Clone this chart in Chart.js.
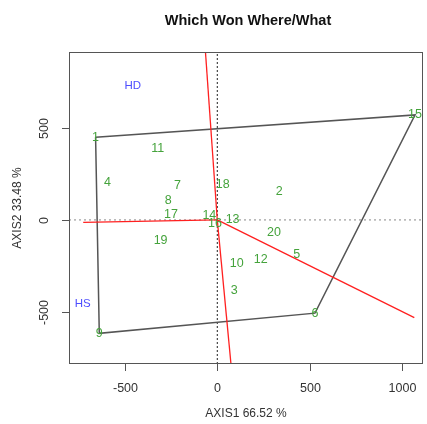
<!DOCTYPE html>
<html>
<head>
<meta charset="utf-8">
<script src="https://cdn.jsdelivr.net/npm/chart.js@4.4.1/dist/chart.umd.min.js"></script>
<style>
  html, body { margin: 0; padding: 0; background: #fff; }
  #wrap { width: 427px; height: 424px; }
</style>
</head>
<body>
<div id="wrap"><canvas id="biplot"></canvas></div>
<script>
// Genotype labels and their biplot scores (AXIS1, AXIS2)
const labels = ['1','2','3','4','5','6','7','8','9','10','11','12','13','14','15','16','17','18','19','20'];
const axis1 = [-659, 336, 92, -594, 430, 529, -215, -265, -639, 105, -323, 235, 83, -43, 1071, -12, -251, 29, -307, 307];
const axis2 = [451, 154, -385, 205, -191, -508, 185, 105, -618, -240, 387, -214, 4, 23, 572, -18, 31, 194, -113, -67];

// Polygon vertices (genotype ids, closed)
const hull = ['1', '15', '6', '9', '1'];

// Rays from origin, perpendicular to the polygon sides
const rayX = [-70, 1067, 85, -726];
const rayY = [1000, -532, -900, -13];

// Environment group labels
const envNames = ['HD', 'HS'];
const envX = [-458, -729];
const envY = [731, -458];

const xTicks = [-500, 0, 500, 1000];
const yTicks = [-500, 0, 500];

const X_MIN = -803, X_MAX = 1114;
const Y_MIN = -785, Y_MAX = 915;

const GREEN = '#45a33c';
const BLUE = '#4d4dff';

const hullPts = hull.map(id => {
  const i = labels.indexOf(id);
  return { x: axis1[i], y: axis2[i] };
});

const rayDatasets = rayX.map((x, i) => ({
  type: 'line',
  data: [{ x: 0, y: 0 }, { x: x, y: rayY[i] }],
  borderColor: '#ff2020',
  borderWidth: 1.3,
  pointRadius: 0,
  order: 2
}));

const ctx = document.getElementById('biplot').getContext('2d');

new Chart(ctx, {
  type: 'scatter',
  data: {
    datasets: [
      {
        // dotted axes through origin
        type: 'line',
        data: [{ x: 0, y: Y_MIN }, { x: 0, y: Y_MAX }],
        borderColor: '#222',
        borderWidth: 1,
        borderDash: [2, 2],
        pointRadius: 0,
        order: 4
      },
      {
        type: 'line',
        data: [{ x: X_MIN, y: 0 }, { x: X_MAX, y: 0 }],
        borderColor: '#888',
        borderWidth: 1,
        borderDash: [2, 3],
        pointRadius: 0,
        order: 4
      },
      {
        type: 'line',
        data: hullPts,
        borderColor: '#555',
        borderWidth: 1.5,
        pointRadius: 0,
        order: 3
      },
      ...rayDatasets,
      {
        data: axis1.map((x, i) => ({ x: x, y: axis2[i] })),
        pointRadius: 0,
        order: 1
      }
    ]
  },
  options: {
    responsive: true,
    maintainAspectRatio: false,
    animation: false,
    events: [],
    layout: {
      padding: { left: 69, top: 52, right: 4, bottom: 60 }
    },
    plugins: {
      legend: { display: false },
      title: { display: false },
      tooltip: { enabled: false }
    },
    scales: {
      x: { type: 'linear', min: X_MIN, max: X_MAX, display: false },
      y: { type: 'linear', min: Y_MIN, max: Y_MAX, display: false }
    }
  },
  plugins: [{
    id: 'rFrame',
    afterDatasetsDraw: (chart) => {
      const c = chart.ctx;
      const a = chart.chartArea;
      const xs = chart.scales.x;
      const ys = chart.scales.y;
      c.save();

      // genotype labels
      c.font = '12.5px "Liberation Sans", Arial, sans-serif';
      c.fillStyle = GREEN;
      c.textAlign = 'center';
      c.textBaseline = 'middle';
      labels.forEach((lab, i) => {
        c.fillText(lab, xs.getPixelForValue(axis1[i]), ys.getPixelForValue(axis2[i]));
      });

      // environment labels
      c.font = '11.5px "Liberation Sans", Arial, sans-serif';
      c.fillStyle = BLUE;
      envNames.forEach((n, i) => {
        c.fillText(n, xs.getPixelForValue(envX[i]), ys.getPixelForValue(envY[i]));
      });

      // box
      c.strokeStyle = '#555';
      c.lineWidth = 1;
      c.strokeRect(a.left + 0.5, a.top + 0.5, a.right - a.left - 1, a.bottom - a.top - 1);

      // ticks
      c.fillStyle = '#333';
      c.font = '12.5px "Liberation Sans", Arial, sans-serif';
      c.textAlign = 'center';
      c.textBaseline = 'middle';
      xTicks.forEach(t => {
        const px = Math.round(xs.getPixelForValue(t)) + 0.5;
        c.beginPath();
        c.moveTo(px, a.bottom);
        c.lineTo(px, a.bottom + 7);
        c.stroke();
        c.fillText(String(t), px, a.bottom + 25);
      });
      yTicks.forEach(t => {
        const py = Math.round(ys.getPixelForValue(t)) + 0.5;
        c.beginPath();
        c.moveTo(a.left, py);
        c.lineTo(a.left - 7, py);
        c.stroke();
        c.save();
        c.translate(a.left - 24, py);
        c.rotate(-Math.PI / 2);
        c.fillText(String(t), 0, 0);
        c.restore();
      });

      // axis titles
      const cx = (a.left + a.right) / 2;
      const cy = (a.top + a.bottom) / 2;
      c.font = '12px "Liberation Sans", Arial, sans-serif';
      c.fillText('AXIS1 66.52 %', cx, 414);
      c.save();
      c.translate(18, cy);
      c.rotate(-Math.PI / 2);
      c.fillText('AXIS2 33.48 %', 0, 0);
      c.restore();

      // main title
      c.fillStyle = '#111';
      c.font = 'bold 14.5px "Liberation Sans", Arial, sans-serif';
      c.fillText('Which Won Where/What', cx + 2, 21);

      c.restore();
    }
  }]
});
</script>
</body>
</html>
